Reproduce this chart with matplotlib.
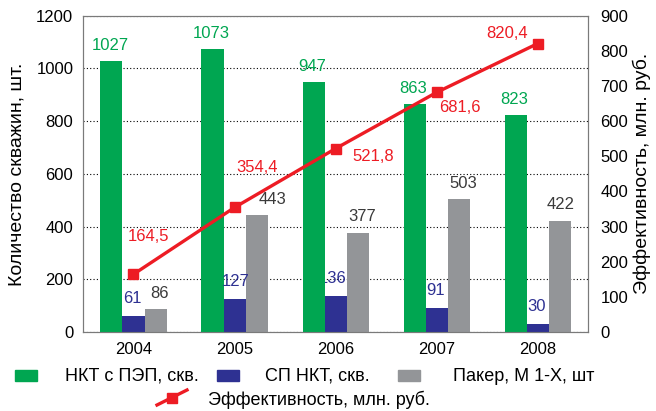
import numpy as np
import matplotlib.pyplot as plt
from matplotlib.patches import Rectangle
from matplotlib.lines import Line2D

plt.rcParams['font.family'] = ['Liberation Sans', 'DejaVu Sans']

years = ['2004', '2005', '2006', '2007', '2008']
nkt_pep = [1027, 1073, 947, 863, 823]
sp_nkt = [61, 127, 136, 91, 30]
paker = [86, 443, 377, 503, 422]
effect = [164.5, 354.4, 521.8, 681.6, 820.4]

GREEN = '#00a651'
BLUE = '#2e3192'
GRAY = '#939598'
RED = '#ed1c24'
DARK = '#3a3a3a'

fig = plt.figure(figsize=(6.56, 4.11), dpi=100)
ax = fig.add_axes([0.1265, 0.192, 0.77, 0.77])
ax2 = ax.twinx()

x = np.arange(len(years))
w = 0.218

ax.bar(x - w, nkt_pep, w, color=GREEN, zorder=3)
ax.bar(x, sp_nkt, w, color=BLUE, zorder=3)
ax.bar(x + w, paker, w, color=GRAY, zorder=3)

fs = 12
gray_dx = [3, 11.5, 3, 3.5, 1]
for i in range(len(years)):
    ax.annotate(str(nkt_pep[i]), (x[i] - w, nkt_pep[i]), xytext=(-1, 6),
                textcoords='offset points', ha='center', va='bottom',
                color=GREEN, fontsize=fs, zorder=4)
    ax.annotate(str(paker[i]), (x[i] + w, paker[i]), xytext=(gray_dx[i], 6),
                textcoords='offset points', ha='center', va='bottom',
                color=DARK, fontsize=fs, zorder=4)
# blue labels; the 2006 one tucks partly behind the green bar
blue_dx = [-1, 1, -2, -1, -1]
for i in range(len(years)):
    ax.annotate(str(sp_nkt[i]), (x[i], sp_nkt[i]), xytext=(blue_dx[i], 7),
                textcoords='offset points', ha='center', va='bottom',
                color=BLUE, fontsize=fs, zorder=2 if i == 2 else 4)

ax.set_xlim(-0.5, 4.5)
ax.set_ylim(0, 1200)
ax.set_yticks(range(0, 1201, 200))
ax.set_xticks(x)
ax.set_xticklabels(years)
ax.grid(axis='y', color='black', linestyle=(0, (1, 2)), linewidth=0.8, zorder=0)
ax.tick_params(length=0, labelsize=fs, pad=7)
ax.set_ylabel('Количество скважин, шт.', fontsize=14, labelpad=8)

ax2.plot(x, effect, color=RED, linewidth=2.4, marker='s', markersize=7.5, zorder=5)
ax2.set_ylim(0, 900)
ax2.set_yticks(range(0, 901, 100))
ax2.tick_params(length=0, labelsize=fs, pad=9)
ax2.set_ylabel('Эффективность, млн. руб.', fontsize=14, labelpad=3)

eff_offsets = [(11, 27), (16, 29), (27, -6), (17, -11), (-22, 7)]
for i in range(len(years)):
    ax2.annotate(str(effect[i]).replace('.', ','), (x[i], effect[i]),
                 xytext=eff_offsets[i], textcoords='offset points',
                 ha='center', va='center', color=RED, fontsize=fs)

for a in (ax, ax2):
    for s in a.spines.values():
        s.set_color('#7a7a7a')

# legend drawn by hand below the axes
def box(x0, y0, color):
    fig.patches.append(Rectangle((x0 / 656, 1 - y0 / 411), 22 / 656, 11 / 411,
                                 color=color, transform=fig.transFigure))

box(15, 381, GREEN)
box(217, 381, BLUE)
box(398, 381, GRAY)
fig.text(65 / 656, 1 - 376 / 411, 'НКТ с ПЭП, скв.', fontsize=13, va='center')
fig.text(265 / 656, 1 - 376 / 411, 'СП НКТ, скв.', fontsize=13, va='center')
fig.text(453 / 656, 1 - 376 / 411, 'Пакер, М 1-Х, шт', fontsize=13, va='center')
fig.lines.append(Line2D([157 / 656, 187 / 656], [1 - 405 / 411, 1 - 390 / 411],
                        color=RED, linewidth=2.4, transform=fig.transFigure))
fig.lines.append(Line2D([172 / 656], [1 - 397.5 / 411], color=RED, marker='s',
                        markersize=7.5, transform=fig.transFigure))
fig.text(208 / 656, 1 - 400 / 411, 'Эффективность, млн. руб.', fontsize=13, va='center')

fig.savefig('out.png', dpi=100)
